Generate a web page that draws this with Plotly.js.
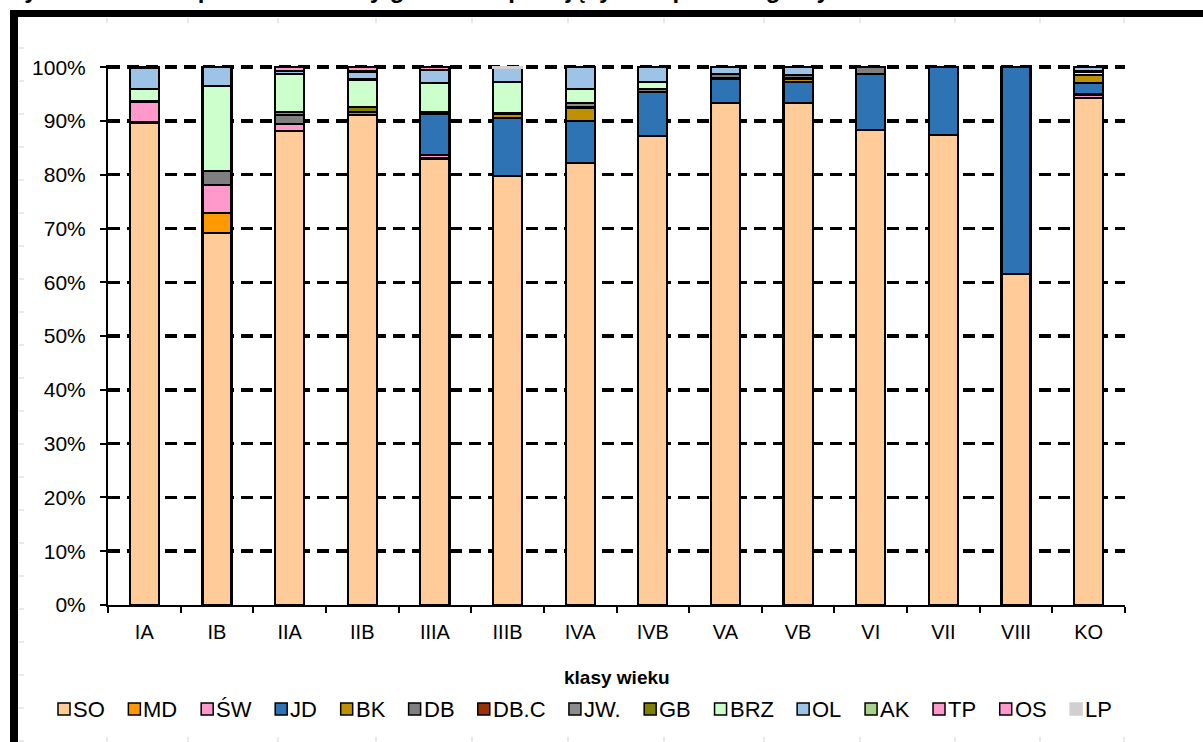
<!DOCTYPE html>
<html><head><meta charset="utf-8">
<script src="https://cdn.plot.ly/plotly-3.0.1.min.js"></script>
<style>html,body{margin:0;padding:0;background:#fff;overflow:hidden;} #chart{width:1203px;height:742px;}</style>
</head><body><div id="chart"></div>
<script>
// ---- data (percent of area) ----
const categories = ['IA','IB','IIA','IIB','IIIA','IIIB','IVA','IVB','VA','VB','VI','VII','VIII','KO'];
const SO  = [89.7, 69.1, 88.2, 91.1, 83.0, 79.7, 82.2, 87.2, 93.4, 93.4, 88.3, 87.4, 61.5, 94.3];
const MD  = [0, 3.8, 0, 0, 0, 0, 0, 0, 0, 0, 0, 0, 0, 0];
const SW  = [3.9, 5.2, 1.2, 0, 0.6, 0, 0, 0, 0, 0, 0, 0, 0, 0.6];
const JD  = [0, 0, 0, 0, 7.8, 10.8, 7.8, 8.2, 4.5, 3.8, 10.4, 12.6, 38.5, 2.1];
const BK  = [0, 0, 0, 0, 0, 0.9, 2.5, 0, 0, 0.7, 0, 0, 0, 1.5];
const DB  = [0, 2.6, 1.7, 0, 0.3, 0, 0, 0.6, 0.9, 0.6, 1.3, 0, 0, 0];
const DBC = [0, 0, 0, 0, 0, 0, 0, 0, 0, 0, 0, 0, 0, 0];
const JW  = [0, 0, 0.6, 0.6, 0, 0, 0.8, 0, 0, 0, 0, 0, 0, 0];
const GB  = [0, 0, 0, 0.9, 0, 0, 0, 0, 0, 0, 0, 0, 0, 0];
const BRZ = [2.4, 15.8, 7.0, 5.1, 5.3, 5.8, 2.7, 1.2, 0, 0, 0, 0, 0, 0.7];
const OL  = [3.8, 3.5, 0.6, 1.5, 2.4, 2.6, 4.0, 2.8, 1.2, 1.5, 0, 0, 0, 0.8];
const AK  = [0, 0, 0, 0, 0, 0, 0, 0, 0, 0, 0, 0, 0, 0];
const TP  = [0.2, 0, 0.7, 0.8, 0.6, 0, 0, 0, 0, 0, 0, 0, 0, 0];
const OS  = [0, 0, 0, 0, 0, 0, 0, 0, 0, 0, 0, 0, 0, 0];
const LP  = [0, 0, 0, 0, 0, 0.2, 0, 0, 0, 0, 0, 0, 0, 0];

const seriesNames  = ['SO','MD','ŚW','JD','BK','DB','DB.C','JW.','GB','BRZ','OL','AK','TP','OS','LP'];
const seriesValues = [SO, MD, SW, JD, BK, DB, DBC, JW, GB, BRZ, OL, AK, TP, OS, LP];
const yTickVals   = [0, 10, 20, 30, 40, 50, 60, 70, 80, 90, 100];
const yTickLabels = ['0%','10%','20%','30%','40%','50%','60%','70%','80%','90%','100%'];
const titleText = 'Wykres 3. Udział powierzchniowy gatunków panujących w poszczególnych klasach wieku';
const xTitle = 'klasy wieku';

// ---- styles ----
const seriesColors = ['#FFCC99','#FF9900','#FF99CC','#2E74B5','#BF9000','#7F7F7F','#993300','#8C8C8C',
                      '#7F7F00','#CCFFCC','#9DC3E6','#A9D18E','#FF99CC','#FF99CC','#D0D0D0'];
const seriesLines  = seriesColors.map((c, i) => seriesNames[i] === 'LP' ? '#D0D0D0' : '#000000');
const FONT = 'Liberation Sans, Arial, sans-serif';

const W = 1203, H = 742;
const Y_TOP = 100.4;               // small headroom so the 100% grid line is drawn
const M = {l:108, r:78, t:65, b:137};
const PW = W - M.l - M.r, PH = H - M.t - M.b;
const px = x => (x - M.l) / PW;
const py = y => (H - M.b - y) / PH;

const traces = seriesNames.map((name, i) => ({
  type: 'bar', name: name, x: categories,
  y: seriesValues[i].map(v => v === 0 ? null : v),
  marker: {color: seriesColors[i], line: {color: seriesLines[i], width: 2.2}},
  showlegend: false, hoverinfo: 'x+y+name'
}));

const shapes = [];
const annotations = [];

// page frame
shapes.push({type:'rect', xref:'paper', yref:'paper', x0:px(10), x1:px(18), y0:py(742), y1:py(10), fillcolor:'#000', line:{width:0}});
shapes.push({type:'rect', xref:'paper', yref:'paper', x0:px(10), x1:px(1203), y0:py(17), y1:py(10), fillcolor:'#000', line:{width:0}});
// faint ruler marks
[107,188,278,376,472,568,664,764,860,955,1040,1124].forEach(x => {
  shapes.push({type:'line', xref:'paper', yref:'paper', x0:px(x), x1:px(x), y0:py(18), y1:py(23), line:{color:'#D3D3D3', width:1}});
  shapes.push({type:'line', xref:'paper', yref:'paper', x0:px(x), x1:px(x), y0:py(737), y1:py(742), line:{color:'#D3D3D3', width:1}});
});
for (let y = 48; y < 742; y += 33) {
  shapes.push({type:'line', xref:'paper', yref:'paper', x0:px(19), x1:px(24), y0:py(y), y1:py(y), line:{color:'#D3D3D3', width:1}});
}

// title (cut off at the top edge of the page, as in the source)
annotations.push({xref:'paper', yref:'paper', x:px(0), y:py(5), xanchor:'left', yanchor:'bottom',
  text:'<b>' + titleText + '</b>', showarrow:false, font:{family:FONT, size:24, color:'#000'}});

// custom one-line legend
const legendFontSize = 22;
const cv = document.createElement('canvas').getContext('2d');
cv.font = legendFontSize + 'px ' + FONT;
const box = 12, boxGap = 3;
const widths = seriesNames.map(n => box + boxGap + cv.measureText(n).width);
const total = widths.reduce((a, b) => a + b, 0);
const startX = 58, endX = 1112, legY = 709;
const gap = (endX - startX - total) / (seriesNames.length - 1);
let cx = startX;
seriesNames.forEach((n, i) => {
  shapes.push({type:'rect', xref:'paper', yref:'paper', x0:px(cx), x1:px(cx+box), y0:py(legY+box/2), y1:py(legY-box/2),
    fillcolor: seriesColors[i], line:{color: n === 'LP' ? seriesColors[i] : '#000', width: 1.5}});
  annotations.push({xref:'paper', yref:'paper', x:px(cx+box+boxGap-1), y:py(legY), xanchor:'left', yanchor:'middle',
    text:n, showarrow:false, borderpad:0, font:{family:FONT, size:legendFontSize, color:'#000'}});
  cx += widths[i] + gap;
});

// x axis title
annotations.push({xref:'paper', yref:'paper', x:0.5, y:py(677), xanchor:'center', yanchor:'middle',
  text:'<b>' + xTitle + '</b>', showarrow:false, font:{family:FONT, size:19, color:'#000'}});

const layout = {
  width: W, height: H, margin: M,
  paper_bgcolor:'#fff', plot_bgcolor:'#fff',
  barmode:'stack', bargap:0.6,
  showlegend:false,
  font:{family:FONT, color:'#000'},
  xaxis:{type:'category', showline:true, linecolor:'#000', linewidth:2, ticks:'outside', tickson:'boundaries',
    ticklen:6, tickwidth:2, tickcolor:'#000', showgrid:false, zeroline:false, automargin:false,
    tickfont:{family:FONT, size:20, color:'#000'}, ticklabelstandoff:8},
  yaxis:{range:[0, Y_TOP], tickmode:'array', tickvals:yTickVals, ticktext:yTickLabels,
    showline:true, linecolor:'#000', linewidth:2,
    ticks:'outside', ticklen:6, tickwidth:2, tickcolor:'#000', zeroline:false, automargin:false,
    showgrid:true, gridcolor:'#000', gridwidth:3.5, griddash:'12px,7px',
    tickfont:{family:FONT, size:21, color:'#000'}, ticklabelstandoff:10},
  shapes: shapes, annotations: annotations
};

Plotly.newPlot('chart', traces, layout, {displayModeBar:false, staticPlot:true});
</script></body></html>
